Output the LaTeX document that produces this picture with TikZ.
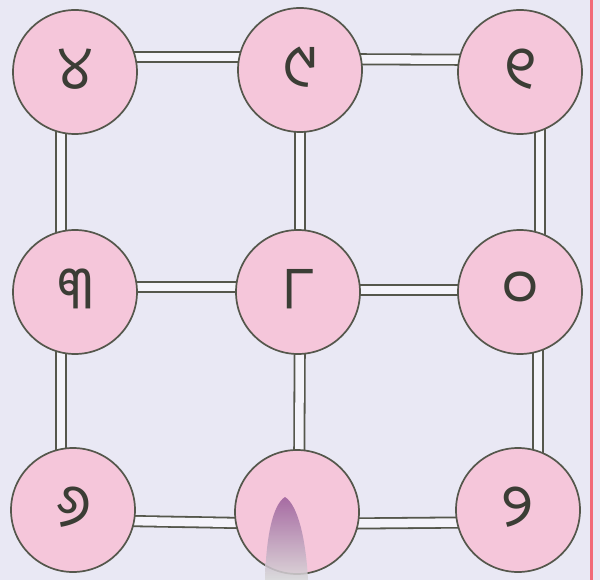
\documentclass[tikz,border=0pt]{standalone}
\usepackage{fontspec}
\newfontfamily\oriya[Script=Oriya]{Noto Sans Oriya UI}
\usetikzlibrary{backgrounds}
\definecolor{bgc}{HTML}{E9E8F4}
\definecolor{pinkc}{HTML}{F5C6DA}
\definecolor{rimc}{HTML}{55574C}
\definecolor{redc}{HTML}{F26A78}
\definecolor{linkin}{HTML}{F4F3FA}
\tikzset{
  digit/.style={circle,draw=rimc,line width=1.7pt,fill=pinkc,minimum size=124pt,inner sep=0pt,
    font=\oriya\fontsize{60}{60}\selectfont,text=rimc!70!black},
  link/.style={draw=rimc,line width=1.8pt,double=linkin,double distance=8.5pt}
}
\begin{document}
\begin{tikzpicture}[x=1pt,y=-1pt]
\node[digit] (a) at (75,72) {୪};
\node[digit] (b) at (300,70) {୯};
\node[digit] (c) at (520,72) {୧};
\node[digit] (d) at (75,292) {୩};
\node[digit] (e) at (298,292) {୮};
\node[digit] (f) at (520,292) {୦};
\node[digit] (g) at (73,510) {୬};
\node[digit] (h) at (297,512) {};
\node[digit] (i) at (518,510) {୨};
\begin{scope}[on background layer]
\fill[bgc] (0,0) rectangle (600,580);
\draw[link] ([yshift=15pt]a.center) -- ([yshift=13pt]b.center);
\draw[link] ([yshift=11pt]b.center) -- ([yshift=12pt]c.center);
\draw[link] ([yshift=5pt]d.center) -- ([yshift=5pt]e.center);
\draw[link] ([yshift=2pt]e.center) -- ([yshift=2pt]f.center);
\draw[link] ([yshift=-10pt]g.center) -- ([yshift=-12pt]h.center);
\draw[link] ([yshift=-12pt]h.center) -- ([yshift=-12pt]i.center);
\draw[link] ([xshift=-14pt]a.center) -- ([xshift=-14pt]d.center);
\draw[link] ([xshift=-14pt]d.center) -- ([xshift=-12pt]g.center);
\draw[link] ([xshift=0pt]b.center) -- ([xshift=2pt]e.center);
\draw[link] ([xshift=2pt]e.center) -- ([xshift=2pt]h.center);
\draw[link] ([xshift=20pt]c.center) -- ([xshift=20pt]f.center);
\draw[link] ([xshift=18pt]f.center) -- ([xshift=20pt]i.center);
\end{scope}
\useasboundingbox (0,0) rectangle (600,580);
\shade[top color=violet!60!gray!80,bottom color=gray!30!white,opacity=0.85]
  (265,580) .. controls (266,540) and (272,505) .. (285,497)
  .. controls (298,505) and (306,540) .. (308,580) -- cycle;
\draw[redc,line width=3pt] (591,0) -- (591,580);
\end{tikzpicture}
\end{document}
